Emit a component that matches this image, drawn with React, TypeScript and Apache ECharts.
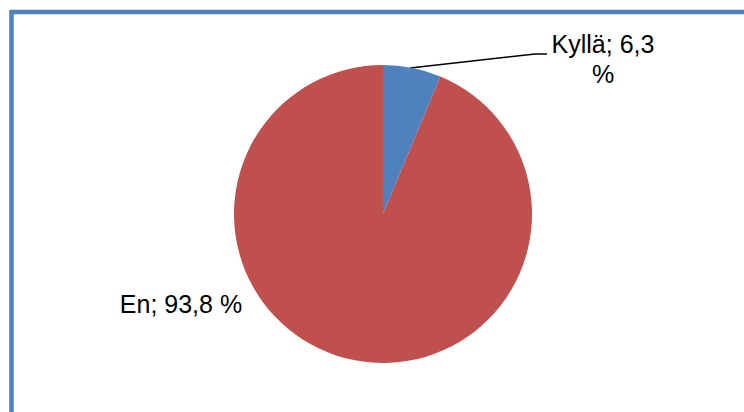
import React, { useEffect, useRef } from "react";
import * as echarts from "echarts";

const categories = ["Kyllä", "En"];
const values = [6.3, 93.8];
const colors = ["#4F81BD", "#C0504D"];

export default function App() {
  const ref = useRef<HTMLDivElement>(null);
  useEffect(() => {
    document.body.style.margin = "0";
    const chart = echarts.init(ref.current!, null, { renderer: "svg" });
    const fmt = (v: number) => String(v).replace(".", ",");
    chart.setOption({
      animation: false,
      backgroundColor: "#ffffff",
      graphic: [
        {
          type: "rect",
          shape: { x: 11.5, y: 12, width: 900, height: 600 },
          style: { fill: "none", stroke: "#4F81BD", lineWidth: 4.5 },
          silent: true,
          z: 10,
        },
      ],
      series: [
        {
          type: "pie",
          center: [383, 214],
          radius: 149,
          startAngle: 90,
          clockwise: true,
          itemStyle: { borderWidth: 0 },
          label: {
            show: true,
            color: "#000",
            fontFamily: "Liberation Sans, Arial, sans-serif",
            fontSize: 25,
            lineHeight: 30,
            align: "center",
            formatter: (p: any) =>
              p.dataIndex === 0
                ? `${p.name}; ${fmt(p.value)}\n%`
                : `${p.name}; ${fmt(p.value)} %`,
          },
          labelLine: { show: true, lineStyle: { color: "#000", width: 1.5 } },
          labelLayout: (p: any) => {
            if (p.dataIndex === 0) {
              return {
                x: 603,
                y: 59,
                align: "center",
                verticalAlign: "middle",
                labelLinePoints: [
                  [410, 68],
                  [535, 54],
                  [547, 54],
                ],
              };
            }
            return { x: 181, y: 304, align: "center", verticalAlign: "middle" };
          },
          data: categories.map((c, i) => ({
            name: c,
            value: values[i],
            itemStyle: { color: colors[i] },
            labelLine: { show: i === 0 },
          })),
        },
      ],
    });
    return () => chart.dispose();
  }, []);
  return <div ref={ref} style={{ width: 744, height: 412 }} />;
}
